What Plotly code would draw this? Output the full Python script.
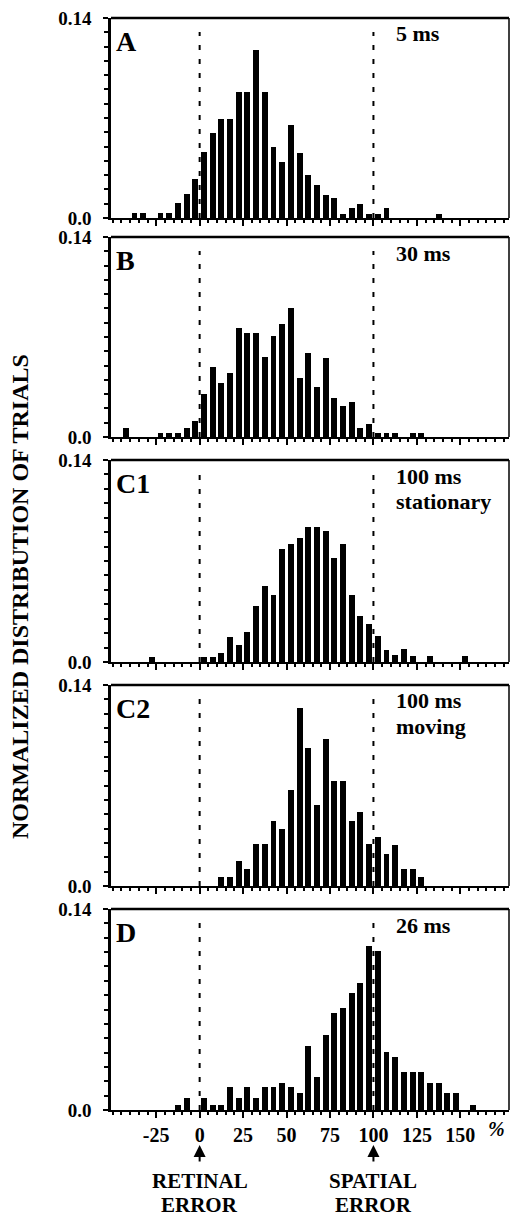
import plotly.graph_objects as go

# ---------------- data ----------------
bin_centers = [-47.5, -42.5, -37.5, -32.5, -27.5, -22.5, -17.5, -12.5, -7.5, -2.5,
               2.5, 7.5, 12.5, 17.5, 22.5, 27.5, 32.5, 37.5, 42.5, 47.5,
               52.5, 57.5, 62.5, 67.5, 72.5, 77.5, 82.5, 87.5, 92.5, 97.5,
               102.5, 107.5, 112.5, 117.5, 122.5, 127.5, 132.5, 137.5, 142.5, 147.5,
               152.5, 157.5]

panel_a = [0, 0, .0032, .0032, 0, .0032, .0032, .0105, .0168, .0275,
           .046, .0595, .069, .069, .0885, .0885, .1175, .0885, .0494, .0394,
           .065, .0457, .030, .0233, .016, .014, .0028, .0068, .0098, .0028,
           .0028, .0068, 0, 0, 0, 0, 0, .0028, 0, 0, 0, 0]

panel_b = [0, .006, 0, 0, 0, .003, .003, .003, .006, .011,
           .030, .049, .038, .045, .076, .073, .073, .0557, .0706, .0792,
           .0904, .0415, .0585, .0352, .0555, .0275, .0219, .0247, .0065, .009,
           .003, .003, .003, 0, .003, .003, 0, 0, 0, 0, 0, 0]

panel_c1 = [0, 0, 0, 0, .0035, 0, 0, 0, 0, 0,
            .0035, .0035, .0065, .0174, .012, .0206, .039, .053, .0467, .078,
            .0815, .0856, .0935, .0935, .0907, .0722, .0815, .0467, .032, .026,
            .0178, .0086, .0046, .0093, .0044, 0, .004, 0, 0, 0, .004, 0]

panel_c2 = [0, 0, 0, 0, 0, 0, 0, 0, 0, 0,
            0, 0, .0063, .0063, .0172, .0116, .029, .029, .045, .040,
            .067, .1237, .0958, .0563, .1023, .0732, .0732, .0453, .0512, .029,
            .034, .0226, .0284, .0116, .0116, .0063, 0, 0, 0, 0, 0, 0]

panel_d = [0, 0, 0, 0, 0, 0, 0, .0035, .0082, 0,
           .0082, .0035, .0035, .0158, .0085, .0158, .0085, .0158, .0158, .019,
           .0158, .012, .0447, .0233, .0523, .0675, .071, .0814, .0884, .1144,
           .111, .0402, .0372, .0267, .0267, .0267, .019, .019, .012, .012, 0, .0035]

panel_letters = ["A", "B", "C1", "C2", "D"]
panel_conditions = [["5 ms"], ["30 ms"], ["100 ms", "stationary"], ["100 ms", "moving"], ["26 ms"]]
x_tick_vals = [-25, 0, 25, 50, 75, 100, 125, 150]
x_tick_text = ["-25", "0", "25", "50", "75", "100", "125", "150"]
y_tick_vals = [0, 0.14]
y_tick_text = ["0.0", "0.14"]
reference_lines = [0, 100]
y_title = "NORMALIZED DISTRIBUTION OF TRIALS"
bottom_labels = [["RETINAL", "ERROR"], ["SPATIAL", "ERROR"]]

series = [panel_a, panel_b, panel_c1, panel_c2, panel_d]

# ---------------- layout geometry ----------------
W, H = 512, 1217
FONT = "Liberation Serif, Times New Roman, serif"
panel_px = [(18, 218), (237, 437), (460, 662), (685, 886), (909, 1110)]
x_dom = [111 / W, 509 / W]

fig = go.Figure()
layout = dict(
    width=W, height=H, autosize=False,
    margin=dict(l=0, r=0, t=0, b=0, pad=0),
    paper_bgcolor="white", plot_bgcolor="white",
    showlegend=False,
    bargap=0,
    font=dict(family=FONT, color="black"),
)
shapes = []
annotations = []

for i, vals in enumerate(series):
    n = i + 1
    xa = "x" if n == 1 else f"x{n}"
    ya = "y" if n == 1 else f"y{n}"
    top, bot = panel_px[i]
    fig.add_trace(go.Bar(x=bin_centers, y=vals, width=3.4,
                         marker=dict(color="black", line=dict(width=0)),
                         xaxis=xa, yaxis=ya, hoverinfo="x+y"))
    last = (n == len(series))
    layout[f"xaxis{n}"] = dict(
        domain=x_dom, range=[-51, 178], anchor=ya, automargin=False,
        showline=True, linewidth=2, linecolor="black",
        ticks="outside", tickvals=x_tick_vals,
        ticktext=[f"<b>{t}</b>" for t in x_tick_text],
        ticklen=6, tickwidth=2, tickcolor="black",
        ticklabelstandoff=0,
        showgrid=False, zeroline=False, showticklabels=last,
        tickfont=dict(family=FONT, size=20, color="black"),
        minor=dict(dtick=5, tick0=0, ticklen=3, tickwidth=1.5,
                   ticks="outside", tickcolor="black", showgrid=False),
        fixedrange=True,
    )
    layout[f"yaxis{n}"] = dict(
        domain=[1 - bot / H, 1 - top / H], range=[0, 0.14], anchor=xa, automargin=False,
        showline=True, linewidth=2.5, linecolor="black",
        ticks="outside", tickvals=y_tick_vals,
        ticktext=[f"<b>{t}</b>" for t in y_tick_text],
        ticklen=5, tickwidth=2, tickcolor="black",
        ticklabelstandoff=8,
        showgrid=False, zeroline=False,
        tickfont=dict(family=FONT, size=19, color="black"),
        minor=dict(dtick=0.01, tick0=0, ticklen=4, tickwidth=2,
                   ticks="outside", tickcolor="black", showgrid=False),
        fixedrange=True,
    )
    xd = f"{xa} domain"
    yd = f"{ya} domain"
    shapes.append(dict(type="line", xref=xd, yref=yd, x0=0, x1=1, y0=1, y1=1,
                       line=dict(color="black", width=2.5)))
    shapes.append(dict(type="line", xref=xd, yref=yd, x0=1, x1=1, y0=0, y1=1,
                       line=dict(color="black", width=1.5)))
    for rv in reference_lines:
        shapes.append(dict(type="line", xref=xa, yref=yd, x0=rv, x1=rv, y0=0, y1=0.93,
                           line=dict(color="black", width=2, dash="5px,9px")))
    annotations.append(dict(text=f"<b>{panel_letters[i]}</b>", xref="paper", yref="paper",
                            x=114 / W, y=1 - (top + 6) / H, xanchor="left", yanchor="top",
                            showarrow=False, font=dict(family=FONT, size=28, color="black")))
    for j, line in enumerate(panel_conditions[i]):
        annotations.append(dict(text=f"<b>{line}</b>", xref="paper", yref="paper",
                                x=395 / W, y=1 - (top + 16 + 25 * j) / H,
                                xanchor="left", yanchor="middle",
                                showarrow=False, borderpad=0,
                                font=dict(family=FONT, size=22, color="black")))

last_xa = f"x{len(series)}"
annotations.append(dict(text="<b><i>%</i></b>", xref=last_xa, yref="paper", x=171,
                        y=1 - 1129 / H, xanchor="center", yanchor="middle", showarrow=False,
                        font=dict(family=FONT, size=20, color="black")))
for rv, lines in zip(reference_lines, bottom_labels):
    annotations.append(dict(text="", xref=last_xa, yref="paper", x=rv, y=1 - 1145 / H,
                            ax=0, ay=18, showarrow=True, arrowhead=2, arrowsize=1.2,
                            arrowwidth=2, arrowcolor="black"))
    for j, line in enumerate(lines):
        annotations.append(dict(text=f"<b>{line}</b>", xref=last_xa, yref="paper", x=rv,
                                y=1 - (1181 + 24 * j) / H, xanchor="center", yanchor="middle",
                                showarrow=False, borderpad=0,
                                font=dict(family=FONT, size=21, color="black")))
annotations.append(dict(text=f"<b>{y_title}</b>", xref="paper", yref="paper",
                        x=20 / W, y=1 - 597 / H, xanchor="center", yanchor="middle",
                        textangle=-90, showarrow=False,
                        font=dict(family=FONT, size=24, color="black")))

layout["shapes"] = shapes
layout["annotations"] = annotations
fig.update_layout(**layout)
fig.write_html(
    "out.html",
    config={"displayModeBar": False, "responsive": False},
    post_script=("document.documentElement.style.margin='0';"
                 "document.body.style.margin='0';"
                 "document.body.style.padding='0';"
                 "document.documentElement.style.overflow='hidden';"
                 "document.body.style.overflow='hidden';"),
)
